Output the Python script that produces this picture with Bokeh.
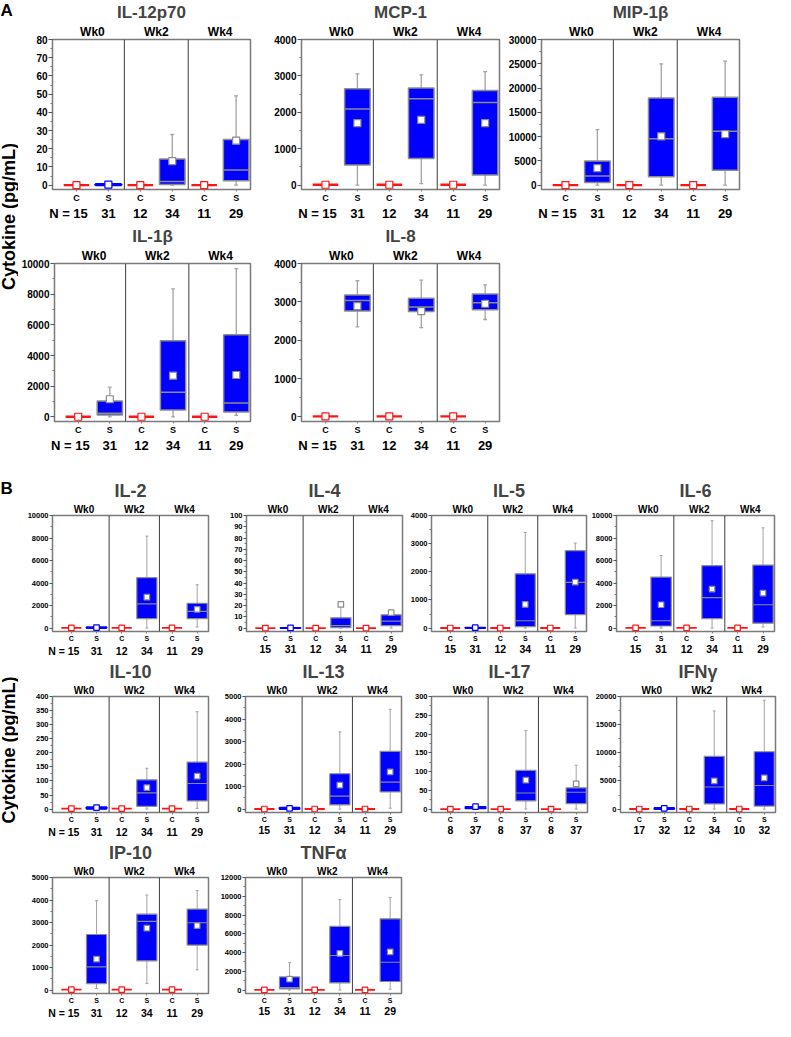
import math
from bokeh.plotting import figure
from bokeh.models import LinearAxis, FixedTicker, Range1d, Span, ColumnDataSource, Spacer
from bokeh.layouts import row, column
from bokeh.embed import file_html
from bokeh.resources import INLINE
from bokeh.core.properties import value

FONT = "Liberation Sans"
WEEKS = ["Wk0", "Wk2", "Wk4"]
GROUPS = ["C", "S"]

# S-group statistics per week: [low whisker, Q1, median, Q3, high whisker, mean]
# ---------------- Panel A ----------------
IL12P70_TICKS = [0, 10, 20, 30, 40, 50, 60, 70, 80]
IL12P70_N = [15, 31, 12, 34, 11, 29]
IL12P70_C_MEAN = [0, 0, 0]
IL12P70_S = [[0, 0, 0.2, 0.5, 0.6, 0.3], [0, 0.3, 2, 14.3, 27.8, 13.2], [0, 2.4, 8.3, 25, 49, 24.4]]

MCP1_TICKS = [0, 1000, 2000, 3000, 4000]
MCP1_N = [15, 31, 12, 34, 11, 29]
MCP1_C_MEAN = [10, 10, 10]
MCP1_S = [[0, 553, 2090, 2650, 3055, 1705], [40, 730, 2370, 2670, 3030, 1790], [0, 280, 2270, 2600, 3120, 1705]]

MIP1B_TICKS = [0, 5000, 10000, 15000, 20000, 25000, 30000]
MIP1B_N = [15, 31, 12, 34, 11, 29]
MIP1B_C_MEAN = [20, 20, 20]
MIP1B_S = [[0, 520, 1900, 4960, 11440, 3490], [0, 1720, 9530, 17930, 24980, 10050], [0, 3050, 11120, 18120, 25550, 10490]]

IL1B_TICKS = [0, 2000, 4000, 6000, 8000, 10000]
IL1B_N = [15, 31, 12, 34, 11, 29]
IL1B_C_MEAN = [10, 10, 10]
IL1B_S = [[0, 130, 230, 1040, 1940, 1150], [0, 450, 1600, 4970, 8340, 2690], [100, 320, 900, 5350, 9660, 2730]]

IL8_TICKS = [0, 1000, 2000, 3000, 4000]
IL8_N = [15, 31, 12, 34, 11, 29]
IL8_C_MEAN = [15, 15, 15]
IL8_S = [[2350, 2760, 3035, 3180, 3550, 2890], [2330, 2750, 2865, 3095, 3565, 2760], [2540, 2795, 2975, 3205, 3445, 2950]]

# ---------------- Panel B ----------------
IL2_TICKS = [0, 2000, 4000, 6000, 8000, 10000]
IL2_N = [15, 31, 12, 34, 11, 29]
IL2_C_MEAN = [20, 20, 20]
IL2_S = [[0, 0, 20, 80, 150, 50], [0, 845, 2160, 4480, 8170, 2750], [100, 845, 1480, 2210, 3850, 1665]]

IL4_TICKS = [0, 10, 20, 30, 40, 50, 60, 70, 80, 90, 100]
IL4_N = [15, 31, 12, 34, 11, 29]
IL4_C_MEAN = [0, 0, 0]
IL4_S = [[0, 0, 0, 0.3, 0.5, 0.2], [0, 0.5, 2.2, 9.1, 20, 21], [0, 2.2, 6.3, 11.8, 13, 13.7]]

IL5_TICKS = [0, 1000, 2000, 3000, 4000]
IL5_N = [15, 31, 12, 34, 11, 29]
IL5_C_MEAN = [5, 5, 5]
IL5_S = [[0, 0, 0, 20, 40, 15], [0, 56, 262, 1930, 3400, 840], [0, 480, 1625, 2750, 3020, 1635]]

IL6_TICKS = [0, 2000, 4000, 6000, 8000, 10000]
IL6_N = [15, 31, 12, 34, 11, 29]
IL6_C_MEAN = [20, 20, 20]
IL6_S = [[0, 190, 656, 4535, 6445, 2075], [0, 845, 2705, 5545, 9540, 3470], [100, 435, 2075, 5600, 8905, 3115]]

IL10_TICKS = [0, 50, 100, 150, 200, 250, 300, 350, 400]
IL10_N = [15, 31, 12, 34, 11, 29]
IL10_C_MEAN = [2, 2, 2]
IL10_S = [[0, 1, 3, 7, 8, 5.4], [0, 10, 58, 104, 145, 76], [3, 29, 91, 167, 346, 117]]

IL13_TICKS = [0, 1000, 2000, 3000, 4000, 5000]
IL13_N = [15, 31, 12, 34, 11, 29]
IL13_C_MEAN = [5, 5, 5]
IL13_S = [[0, 0, 10, 60, 80, 30], [0, 190, 575, 1570, 3430, 1065], [40, 765, 1200, 2565, 4430, 1650]]

IL17_TICKS = [0, 50, 100, 150, 200, 250, 300]
IL17_N = [8, 37, 8, 37, 8, 37]
IL17_C_MEAN = [0, 0, 0]
IL17_S = [[0, 2, 4, 6, 8, 6.5], [0, 22, 43, 103, 209, 77], [0, 14.5, 45, 56.6, 117, 67]]

IFNG_TICKS = [0, 5000, 10000, 15000, 20000]
IFNG_N = [17, 32, 12, 34, 10, 32]
IFNG_C_MEAN = [20, 20, 20]
IFNG_S = [[0, 0, 50, 200, 300, 150], [0, 915, 3925, 9370, 17430, 5010], [0, 545, 4195, 10185, 19340, 5560]]

IP10_TICKS = [0, 1000, 2000, 3000, 4000, 5000]
IP10_N = [15, 31, 12, 34, 11, 29]
IP10_C_MEAN = [20, 20, 20]
IP10_S = [[70, 290, 1030, 2470, 3970, 1380], [290, 1300, 3050, 3370, 4220, 2750], [900, 2000, 2990, 3600, 4420, 2860]]

TNFA_TICKS = [0, 2000, 4000, 6000, 8000, 10000, 12000]
TNFA_N = [15, 31, 12, 34, 11, 29]
TNFA_C_MEAN = [20, 20, 20]
TNFA_S = [[0, 140, 260, 1410, 2930, 1170], [0, 780, 3690, 6790, 9650, 3910], [100, 920, 2970, 7600, 9880, 4080]]

# ---------------- styling ----------------
BLUE = "#0000ff"
RED = "#ff1414"
GREY_BOX = "#8c8c8c"
GREY_WHISK = "#a3a3a3"
FRAME = "#7a7a7a"
DIVIDER = "#3c3c3c"

STYLE_A = dict(title=17, wk=12, ytick=10, cs=9, n=13, marker=7, box_lw=1.5, red_lw=2.3,
               tick_out=4, n_shift=0.25, whisk_lw=1.3)
STYLE_B = dict(title=18, wk=10, ytick=7.5, cs=7, n=10.5, marker=5.5, box_lw=1.2, red_lw=1.8,
               tick_out=3, n_shift=0.3, whisk_lw=1.0)

X_START, X_END = 0.25, 6.45
BOX_W = 0.8
CAP_W = 0.12


def style_labels(ax, px):
    ax.major_label_text_font = FONT
    ax.major_label_text_font_style = "bold"
    ax.major_label_text_font_size = f"{px}px"
    ax.major_label_text_color = "black"


def make_panel(name, ticks, n_vals, c_mean, s_stats, lb, fw, rb, tb, fh, bb, st, n_prefix=True):
    ymax = ticks[-1]
    p = figure(width=lb + fw + rb, height=tb + fh + bb,
               x_range=Range1d(X_START, X_END), y_range=Range1d(-0.03 * ymax, ymax),
               x_axis_type=None, toolbar_location=None, output_backend="svg",
               min_border_left=lb, min_border_right=rb, min_border_top=tb, min_border_bottom=bb,
               title=name, background_fill_color="white", border_fill_color="white")
    p.title.align = "center"
    p.title.text_font = FONT
    p.title.text_font_size = f"{st['title']}px"
    p.title.text_font_style = "bold"
    p.title.standoff = 0
    p.ygrid.visible = False
    p.outline_line_color = FRAME
    p.outline_line_width = 1.5

    # y axis
    ya = p.yaxis[0]
    mids = [(a + b) / 2 for a, b in zip(ticks[:-1], ticks[1:])]
    ya.ticker = FixedTicker(ticks=ticks, minor_ticks=mids)
    style_labels(ya, st["ytick"])
    ya.axis_line_color = FRAME
    ya.major_tick_line_color = "#555555"
    ya.minor_tick_line_color = "#777777"
    ya.major_tick_out = st["tick_out"]
    ya.major_tick_in = 0
    ya.minor_tick_out = 2
    ya.minor_tick_in = 0
    ya.major_label_standoff = 1

    nw = len(WEEKS)
    ng = len(GROUPS)
    pos = [ng * i + j + 1 for i in range(nw) for j in range(ng)]
    wk_pos = [ng * i + (ng + 1) / 2 for i in range(nw)]

    # week labels above
    top = LinearAxis(ticker=FixedTicker(ticks=wk_pos, minor_ticks=[]),
                     major_label_overrides={t: w for t, w in zip(wk_pos, WEEKS)})
    style_labels(top, st["wk"])
    top.axis_line_color = None
    top.major_tick_line_color = None
    top.minor_tick_line_color = None
    top.major_tick_out = 0
    top.major_tick_in = 0
    top.major_label_standoff = 1
    p.add_layout(top, "above")

    # group labels below
    cs = LinearAxis(ticker=FixedTicker(ticks=pos, minor_ticks=[]),
                    major_label_overrides={t: GROUPS[k % ng] for k, t in enumerate(pos)})
    style_labels(cs, st["cs"])
    cs.axis_line_color = None
    cs.major_tick_line_color = "#808080"
    cs.minor_tick_line_color = None
    cs.major_tick_out = 2
    cs.major_tick_in = 0
    cs.major_label_standoff = 1
    p.add_layout(cs, "below")

    # N labels below
    n_pos = list(pos)
    if n_prefix:
        n_pos[0] = pos[0] - st["n_shift"]
    n_lab = {}
    for k, (t, n) in enumerate(zip(n_pos, n_vals)):
        n_lab[t] = (f"N = {n}" if (k == 0 and n_prefix) else str(n))
    na = LinearAxis(ticker=FixedTicker(ticks=n_pos, minor_ticks=[]), major_label_overrides=n_lab)
    style_labels(na, st["n"])
    na.axis_line_color = None
    na.major_tick_line_color = None
    na.minor_tick_line_color = None
    na.major_tick_out = 0
    na.major_tick_in = 0
    na.major_label_standoff = 0
    p.add_layout(na, "below")

    # dividers between weeks
    for k in range(1, nw):
        p.add_layout(Span(location=ng * k + 0.5, dimension="height",
                          line_color=DIVIDER, line_width=1))

    # S groups
    x_s = [ng * i + 2 for i in range(nw)]
    x_c = [ng * i + 1 for i in range(nw)]
    lo = [s[0] for s in s_stats]
    q1 = [s[1] for s in s_stats]
    med = [s[2] for s in s_stats]
    q3 = [s[3] for s in s_stats]
    hi = [s[4] for s in s_stats]
    mean = [s[5] for s in s_stats]
    tiny = [(b - a) < 0.025 * ymax for a, b in zip(q1, q3)]

    big = [i for i in range(nw) if not tiny[i]]
    wsrc = ColumnDataSource(dict(
        x=[x_s[i] for i in big], xl=[x_s[i] - CAP_W / 2 for i in big], xr=[x_s[i] + CAP_W / 2 for i in big],
        lo=[lo[i] for i in big], q1=[q1[i] for i in big], q3=[q3[i] for i in big], hi=[hi[i] for i in big]))
    p.segment(x0="x", y0="q3", x1="x", y1="hi", source=wsrc, line_color=GREY_WHISK, line_width=st["whisk_lw"])
    p.segment(x0="x", y0="q1", x1="x", y1="lo", source=wsrc, line_color=GREY_WHISK, line_width=st["whisk_lw"])
    p.segment(x0="xl", y0="hi", x1="xr", y1="hi", source=wsrc, line_color=GREY_WHISK, line_width=st["whisk_lw"])
    p.segment(x0="xl", y0="lo", x1="xr", y1="lo", source=wsrc, line_color=GREY_WHISK, line_width=st["whisk_lw"])

    bsrc = ColumnDataSource(dict(
        x=x_s, q1=q1, q3=q3, med=med, mean=mean,
        xl=[x - BOX_W / 2 for x in x_s], xr=[x + BOX_W / 2 for x in x_s],
        lc=[BLUE if t else GREY_BOX for t in tiny],
        lw=[st["red_lw"] if t else st["box_lw"] for t in tiny],
        mc=[BLUE if t else "#8a8a8a" for t in tiny]))
    p.vbar(x="x", width=BOX_W, bottom="q1", top="q3", source=bsrc,
           fill_color=BLUE, line_color="lc", line_width="lw")
    p.segment(x0="xl", y0="med", x1="xr", y1="med", source=bsrc, line_color="lc", line_width="lw")
    p.scatter(x="x", y="mean", source=bsrc, marker="square", size=st["marker"],
              fill_color="white", line_color="mc", line_width=1.2)

    # C groups
    csrc = ColumnDataSource(dict(x=x_c, m=c_mean,
                                 xl=[x - BOX_W / 2 for x in x_c], xr=[x + BOX_W / 2 for x in x_c]))
    p.segment(x0="xl", y0="m", x1="xr", y1="m", source=csrc, line_color=RED, line_width=st["red_lw"])
    p.scatter(x="x", y="m", source=csrc, marker="square", size=st["marker"],
              fill_color="white", line_color=RED, line_width=1.2)
    return p


def make_strip(w, h, letter, label_frac):
    p = figure(width=w, height=h, x_range=Range1d(0, 1), y_range=Range1d(0, 1),
               x_axis_type=None, y_axis_type=None, toolbar_location=None, output_backend="svg",
               min_border_left=0, min_border_right=0, min_border_top=0, min_border_bottom=0,
               background_fill_color="white", border_fill_color="white")
    p.outline_line_color = None
    p.grid.visible = False
    p.text(x=[0.0], y=[1.0], text=[letter], text_align="left", text_baseline="top",
           text_font=value(FONT), text_font_size="17px", text_font_style="bold", text_color="black")
    p.text(x=[0.45], y=[label_frac], text=["Cytokine (pg/mL)"], angle=math.pi / 2,
           text_align="center", text_baseline="middle",
           text_font=value(FONT), text_font_size="18px", text_font_style="bold", text_color="black")
    return p


STRIP_W = 18
A1 = dict(tb=34, fh=159, bb=30)
A2 = dict(tb=40, fh=162, bb=30)
BR = dict(tb=33, fh=125, bb=23)

p_il12 = make_panel("IL-12p70", IL12P70_TICKS, IL12P70_N, IL12P70_C_MEAN, IL12P70_S, 34, 198, 6, st=STYLE_A, **A1)
p_mcp1 = make_panel("MCP-1", MCP1_TICKS, MCP1_N, MCP1_C_MEAN, MCP1_S, 45, 198, 6, st=STYLE_A, **A1)
p_mip = make_panel("MIP-1β", MIP1B_TICKS, MIP1B_N, MIP1B_C_MEAN, MIP1B_S, 36, 198, 6, st=STYLE_A, **A1)
p_il1b = make_panel("IL-1β", IL1B_TICKS, IL1B_N, IL1B_C_MEAN, IL1B_S, 35, 197, 6, st=STYLE_A, **A2)
p_il8 = make_panel("IL-8", IL8_TICKS, IL8_N, IL8_C_MEAN, IL8_S, 45, 198, 6, st=STYLE_A, **A2)

p_il2 = make_panel("IL-2", IL2_TICKS, IL2_N, IL2_C_MEAN, IL2_S, 34, 156, 4, st=STYLE_B, **BR)
p_il4 = make_panel("IL-4", IL4_TICKS, IL4_N, IL4_C_MEAN, IL4_S, 34, 156, 4, st=STYLE_B, n_prefix=False, **BR)
p_il5 = make_panel("IL-5", IL5_TICKS, IL5_N, IL5_C_MEAN, IL5_S, 25, 155, 2, st=STYLE_B, n_prefix=False, **BR)
p_il6 = make_panel("IL-6", IL6_TICKS, IL6_N, IL6_C_MEAN, IL6_S, 25, 161, 4, st=STYLE_B, n_prefix=False, **BR)
p_il10 = make_panel("IL-10", IL10_TICKS, IL10_N, IL10_C_MEAN, IL10_S, 34, 156, 4, st=STYLE_B, **BR)
p_il13 = make_panel("IL-13", IL13_TICKS, IL13_N, IL13_C_MEAN, IL13_S, 33, 156, 4, st=STYLE_B, n_prefix=False, **BR)
p_il17 = make_panel("IL-17", IL17_TICKS, IL17_N, IL17_C_MEAN, IL17_S, 26, 156, 2, st=STYLE_B, n_prefix=False, **BR)
p_ifng = make_panel("IFNγ", IFNG_TICKS, IFNG_N, IFNG_C_MEAN, IFNG_S, 31, 155, 4, st=STYLE_B, n_prefix=False, **BR)
p_ip10 = make_panel("IP-10", IP10_TICKS, IP10_N, IP10_C_MEAN, IP10_S, 34, 156, 4, st=STYLE_B, **BR)
p_tnfa = make_panel("TNFα", TNFA_TICKS, TNFA_N, TNFA_C_MEAN, TNFA_S, 33, 156, 4, st=STYLE_B, n_prefix=False, **BR)

hA = sum(A1.values()) + sum(A2.values())
hB = 3 * sum(BR.values())
stripA = make_strip(STRIP_W, hA, "A", 0.525)
stripB = make_strip(STRIP_W, hB, "B", 0.50)

blockA = row(stripA, column(row(p_il12, p_mcp1, p_mip), row(p_il1b, p_il8)))
blockB = row(stripB, column(row(p_il2, p_il4, p_il5, p_il6),
                            row(p_il10, p_il13, p_il17, p_ifng),
                            row(p_ip10, p_tnfa)))
page = column(blockA, Spacer(width=10, height=23), blockB)

open("out.html", "w").write(file_html(page, INLINE, title="Cytokine levels"))
